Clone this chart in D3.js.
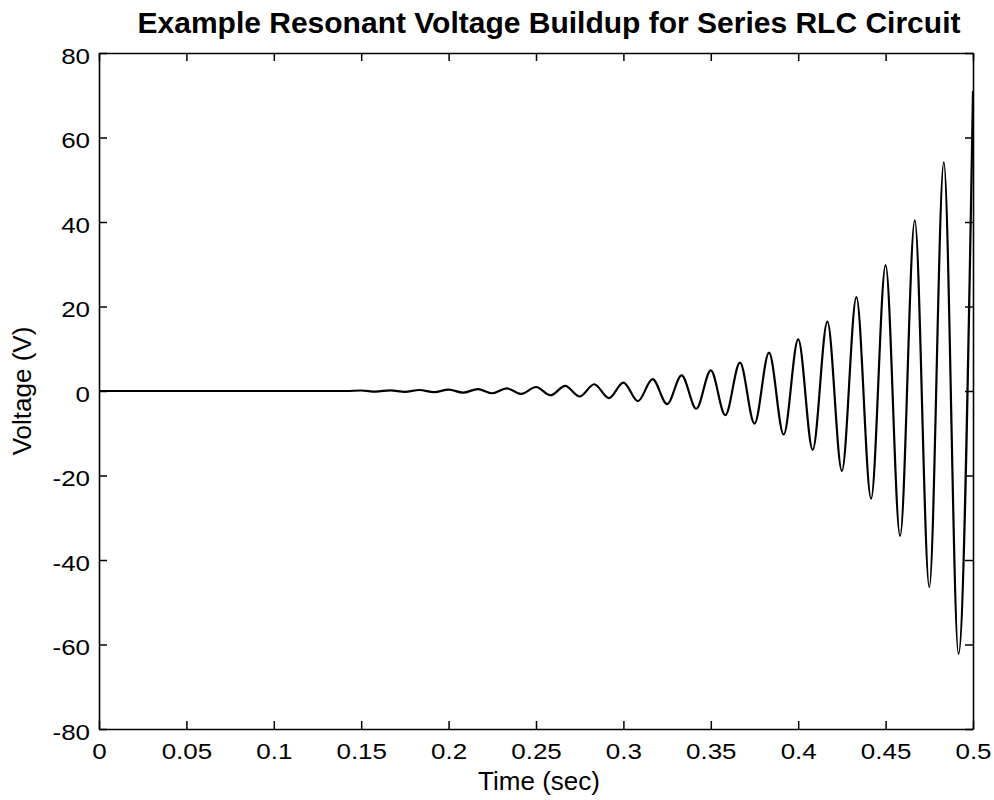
<!DOCTYPE html>
<html>
<head>
<meta charset="utf-8">
<script src="https://cdn.jsdelivr.net/npm/d3@7"></script>
<style>
  body { margin: 0; background: #fff; }
  svg { font-family: "Liberation Sans", Arial, Helvetica, sans-serif; }
</style>
</head>
<body>
<svg id="chart" width="994" height="800"></svg>
<script>
// extremos de la oscilacion (tiempo en s, voltaje en V)
const tiempos = [0, 0.1, 0.1417,
  0.1500, 0.1583, 0.1667, 0.1750, 0.1833, 0.1917, 0.2000, 0.2083, 0.2167, 0.2250,
  0.2333, 0.2417, 0.2500, 0.2583, 0.2667, 0.2750, 0.2833, 0.2917, 0.3000, 0.3083,
  0.3167, 0.3250, 0.3333, 0.3417, 0.3500, 0.3583, 0.3667, 0.3750, 0.3833, 0.3917,
  0.4000, 0.4083, 0.4167, 0.4250, 0.4333, 0.4417, 0.4500, 0.4583, 0.4667, 0.4750,
  0.4833, 0.4917, 0.5000];
const voltajes = [0, 0, 0,
  0.12, -0.14, 0.17, -0.2, 0.24, -0.28, 0.33, -0.4, 0.46, -0.53,
  0.6, -0.7, 0.95, -1.0, 1.2, -1.3, 1.6, -1.7, 2.0, -2.4,
  2.8, -3.1, 3.7, -4.2, 4.9, -5.7, 6.7, -7.7, 9.1, -10.3,
  12.2, -13.9, 16.4, -18.9, 22.2, -25.5, 29.8, -34.3, 40.4, -46.4,
  54.1, -62.2, 71];

const ticksX = [0, 0.05, 0.1, 0.15, 0.2, 0.25, 0.3, 0.35, 0.4, 0.45, 0.5];
const ticksY = [-80, -60, -40, -20, 0, 20, 40, 60, 80];

const titulo = "Example Resonant Voltage Buildup for Series RLC Circuit";
const etiquetaX = "Time (sec)";
const etiquetaY = "Voltage (V)";

const svg = d3.select("#chart");
const margin = { top: 53, right: 21, bottom: 71, left: 99 };
const width = 994, height = 800;

const x = d3.scaleLinear().domain([0, 0.5]).range([margin.left, width - margin.right]);
const y = d3.scaleLinear().domain([-80, 80]).range([height - margin.bottom, margin.top]);

const datos = tiempos.map((t, i) => ({ t: t, v: voltajes[i] }));

// linea
const linea = d3.line()
    .x(d => x(d.t))
    .y(d => y(d.v))
    .curve(d3.curveMonotoneX);

svg.append("path")
    .datum(datos)
    .attr("d", linea)
    .attr("fill", "none")
    .attr("stroke", "#000")
    .attr("stroke-width", 2.2)
    .attr("stroke-linejoin", "round");

// ejes
const fmt = d => String(d);

const ejeX = svg.append("g")
    .attr("transform", `translate(0,${height - margin.bottom})`)
    .call(d3.axisBottom(x).tickValues(ticksX).tickSizeInner(-8).tickSizeOuter(0)
        .tickPadding(14).tickFormat(fmt));

const ejeY = svg.append("g")
    .attr("transform", `translate(${margin.left},0)`)
    .call(d3.axisLeft(y).tickValues(ticksY).tickSizeInner(-8).tickSizeOuter(0)
        .tickPadding(9).tickFormat(fmt));

svg.append("g")
    .attr("transform", `translate(0,${margin.top})`)
    .call(d3.axisTop(x).tickValues(ticksX).tickSizeInner(-8).tickSizeOuter(0).tickFormat(""));

svg.append("g")
    .attr("transform", `translate(${width - margin.right},0)`)
    .call(d3.axisRight(y).tickValues(ticksY).tickSizeInner(-8).tickSizeOuter(0).tickFormat(""));

svg.selectAll(".tick line").attr("stroke", "#000").attr("stroke-width", 1.5);
svg.selectAll(".domain").attr("stroke", "#000").attr("stroke-width", 1.6);
svg.selectAll(".tick text")
    .attr("fill", "#000")
    .style("font-size", "22px")
    .attr("transform", "scale(1.18,1)");
ejeY.selectAll(".tick text").attr("dy", "0.47em").attr("x", -9 / 1.18);

// textos
svg.append("text")
    .attr("x", (margin.left + width - margin.right) / 2 + 13)
    .attr("y", 33)
    .attr("text-anchor", "middle")
    .style("font-size", "30px")
    .style("font-weight", "bold")
    .text(titulo);

svg.append("text")
    .attr("x", (margin.left + width - margin.right) / 2 + 3)
    .attr("y", 790)
    .attr("text-anchor", "middle")
    .style("font-size", "26px")
    .text(etiquetaX);

svg.append("text")
    .attr("transform", `translate(31,${(margin.top + height - margin.bottom) / 2}) rotate(-90)`)
    .attr("text-anchor", "middle")
    .style("font-size", "26px")
    .text(etiquetaY);
</script>
</body>
</html>
